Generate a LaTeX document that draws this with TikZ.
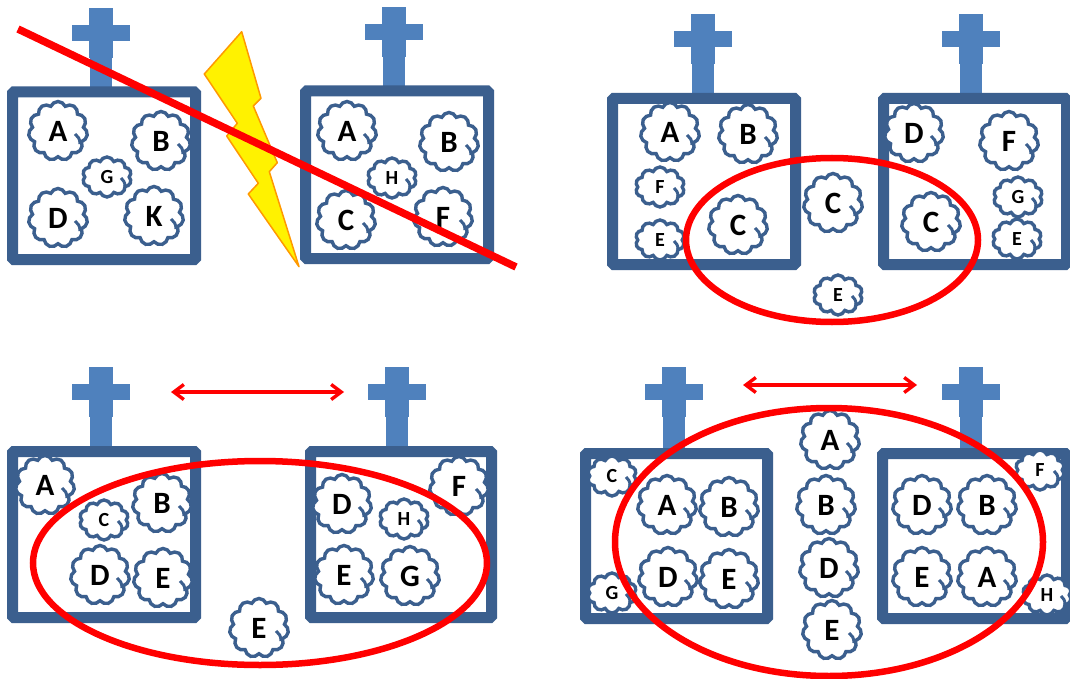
\documentclass[tikz,border=0pt]{standalone}
\usepackage{fontspec}
\setmainfont{Carlito}
\usetikzlibrary{shapes.symbols,arrows.meta}
\definecolor{boxblue}{HTML}{3B5F8E}
\definecolor{crossblue}{HTML}{4F81BD}
\tikzset{
  tank/.style={draw=boxblue,line width=11pt,rounded corners=1.5pt,fill=white},
  crossbar/.style={fill=crossblue,draw=none},
  puff/.style={cloud,draw=boxblue,line width=3.4pt,fill=white,cloud puffs=11,cloud puff arc=135,inner sep=0pt,outer sep=0pt},
  bigcloud/.style={puff,aspect=1,minimum width=59pt,minimum height=59pt,font=\fontsize{31}{31}\bfseries\selectfont},
  smallcloud/.style={puff,aspect=1.25,cloud puffs=10,minimum width=49pt,minimum height=40pt,font=\fontsize{20}{20}\bfseries\selectfont},
  hook/.style={draw=boxblue,line width=3pt},
  redring/.style={draw=red,line width=6.5pt},
  redarrow/.style={draw=red,line width=3.4pt,{Straight Barb[length=10pt,width=15pt]}-{Straight Barb[length=10pt,width=15pt]}}
}
\newcommand{\bigc}[4]{\node[bigcloud] (#1) at (#2,#3) {#4};
  \draw[hook] ([shift={(17,3)}]#1.center) .. controls ([shift={(20,5)}]#1.center) and ([shift={(22,8)}]#1.center) .. ([shift={(22,13)}]#1.center);}
\newcommand{\smallc}[4]{\node[smallcloud] (#1) at (#2,#3) {#4};
  \draw[hook] ([shift={(14,1)}]#1.center) .. controls ([shift={(16,3)}]#1.center) and ([shift={(18,5)}]#1.center) .. ([shift={(18,9)}]#1.center);}
\newcommand{\tankcross}[3]{% cx, top, base
  \fill[crossbar] (#1-11,#2+20) rectangle (#1+11,#3);
  \fill[crossbar] (#1-12,#2) rectangle (#1+12,#2+50);
  \fill[crossbar] (#1-29,#2+17) rectangle (#1+29,#2+33);}
\begin{document}
\begin{tikzpicture}[x=1pt,y=-1pt]
\useasboundingbox (0,0) rectangle (1070,679);
\fill[white] (0,0) rectangle (1070,679);
% panel 1
\tankcross{101}{8}{88}
\tankcross{394}{7}{87}
\draw[tank] (12.5,92) rectangle (195.5,259.5);
\draw[tank] (305.5,91) rectangle (488.5,258.5);
\bigc{pa}{58}{131}{A}
\bigc{pb}{161}{141}{B}
\smallc{pg}{107}{177}{G}
\bigc{pd}{58}{218}{D}
\bigc{pk}{154}{216}{K}
\bigc{qa}{347}{131}{A}
\bigc{qb}{449}{142}{B}
\smallc{qh}{392}{178}{H}
\bigc{qc}{346}{220}{C}
\bigc{qf}{443}{217}{F}
\fill[yellow,draw=orange!80!yellow,line width=1.5pt,line join=round]
 (241.7,31.7)--(204.3,74)--(237.3,123.3)--(226.7,136)--(258.3,183.3)--(248.3,194)--(299,266.7)--(269.3,171.7)--(277.3,162.7)--(253.3,106)--(261,98.3)--cycle;
\coordinate (sa) at (18,29);
\coordinate (sb) at (516,267);
\draw[draw=red,line width=7.5pt] (sa)--(sb);
% panel 2
\tankcross{703}{14}{94}
\tankcross{971}{14}{94}
\draw[tank] (612.5,98.5) rectangle (795.5,264.5);
\draw[tank] (883.5,98.5) rectangle (1066.5,264.5);
\bigc{ra}{670}{132}{A}
\bigc{rb}{748}{134}{B}
\smallc{rf}{660}{187}{F}
\smallc{re}{660}{240}{E}
\bigc{rc}{738}{225}{C}
\bigc{mc}{833}{203}{C}
\smallc{me}{838}{295}{E}
\bigc{sd}{914}{133}{D}
\bigc{sf}{1009}{141}{F}
\smallc{sg}{1018}{197}{G}
\smallc{se}{1017}{239}{E}
\bigc{sc}{931}{222}{C}
\draw[redring] (832,240) ellipse [x radius=146,y radius=82];
% panel 3
\tankcross{101}{367}{447}
\tankcross{397}{367}{447}
\draw[tank] (12.5,451.5) rectangle (195.5,617.5);
\draw[tank] (310.5,451.5) rectangle (491.5,617.5);
\bigc{ta}{45}{485}{A}
\smallc{tc}{104}{520}{C}
\bigc{tb}{162}{503}{B}
\bigc{td}{100}{575}{D}
\bigc{te}{163}{578}{E}
\bigc{me2}{259}{628}{E}
\bigc{ud}{342}{504}{D}
\smallc{uh}{404}{519}{H}
\bigc{uf}{459}{486}{F}
\bigc{ue}{344}{575}{E}
\bigc{ug}{410}{576}{G}
\draw[redring] (260,563) ellipse [x radius=227,y radius=102];
\coordinate (la) at (171,392);
\coordinate (lb) at (344,392);
\draw[redarrow] (la)--(lb);
% panel 4
\tankcross{674}{367}{449}
\tankcross{971}{367}{449}
\draw[tank] (585.5,453.5) rectangle (767.5,618.5);
\draw[tank] (882.5,453.5) rectangle (1066.5,618.5);
\smallc{vc}{612}{476}{C}
\smallc{vg}{612}{593}{G}
\bigc{va}{667}{505}{A}
\bigc{vb}{729}{507}{B}
\bigc{vd}{668}{577}{D}
\bigc{ve}{729}{579}{E}
\bigc{na}{830}{440}{A}
\bigc{nb}{826}{505}{B}
\bigc{nd}{829}{568}{D}
\bigc{ne}{832}{630}{E}
\bigc{wd}{922}{505}{D}
\bigc{wb}{987}{505}{B}
\bigc{we}{922}{577}{E}
\bigc{wa}{987}{577}{A}
\smallc{wf}{1040}{470}{F}
\smallc{wh}{1047}{595}{H}
\draw[redring] (829,542) ellipse [x radius=214,y radius=134];
\coordinate (ra1) at (743,385);
\coordinate (ra2) at (917,385);
\draw[redarrow] (ra1)--(ra2);
\end{tikzpicture}
\end{document}
